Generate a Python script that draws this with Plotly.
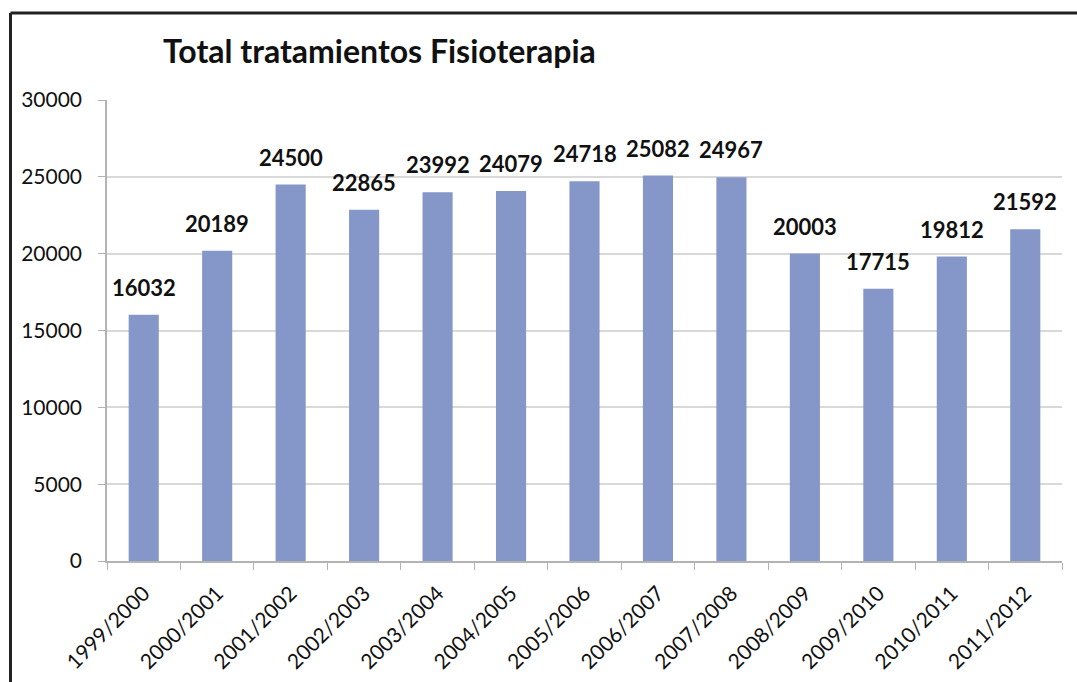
import plotly.graph_objects as go

categories = ["1999/2000", "2000/2001", "2001/2002", "2002/2003", "2003/2004",
              "2004/2005", "2005/2006", "2006/2007", "2007/2008", "2008/2009",
              "2009/2010", "2010/2011", "2011/2012"]
values = [16032, 20189, 24500, 22865, 23992, 24079, 24718, 25082, 24967,
          20003, 17715, 19812, 21592]
y_ticks = [0, 5000, 10000, 15000, 20000, 25000, 30000]
title_text = "Total tratamientos Fisioterapia"

bar_color = "#8497C8"
font_family = "Lato, 'Open Sans', sans-serif"

fig = go.Figure()
fig.add_trace(go.Bar(
    x=categories, y=values,
    marker=dict(color=bar_color, line=dict(width=0)),
    hoverinfo="x+y",
))

annotations = [
    dict(x=c, y=v, xref="x", yref="y", text=f"{v}", showarrow=False,
         yanchor="bottom", xanchor="center", yshift=12,
         font=dict(family=font_family, size=22, color="#111111", weight="bold"))
    for c, v in zip(categories, values)
]

fig.update_layout(
    width=1077, height=682,
    margin=dict(l=107, r=15, t=100, b=121, autoexpand=False),
    paper_bgcolor="white", plot_bgcolor="white",
    bargap=0.59,
    showlegend=False,
    title=dict(text=f"<b>{title_text}</b>", x=163 / 1077, xanchor="left",
               xref="container", y=1 - 52 / 682, yanchor="middle", yref="container",
               font=dict(family=font_family, size=32, color="#111111")),
    font=dict(family=font_family, color="#111111"),
    annotations=annotations,
    xaxis=dict(
        type="category", showgrid=False,
        showline=True, linecolor="#b3b3b3", linewidth=1.5,
        ticks="outside", ticklen=7, tickcolor="#b3b3b3", tickson="boundaries",
        tickangle=-45, tickfont=dict(family=font_family, size=21, color="#111111"),
        ticklabelstandoff=10,
        range=[-0.5, len(categories) - 0.5],
    ),
    yaxis=dict(
        range=[0, 30000], tickvals=y_ticks, ticktext=[str(t) for t in y_ticks],
        showgrid=True, gridcolor="#d9d9d9", gridwidth=1.5,
        showline=True, linecolor="#b3b3b3", linewidth=1.5,
        ticks="outside", ticklen=7, tickcolor="#b3b3b3",
        tickfont=dict(family=font_family, size=21, color="#111111"),
        ticklabelstandoff=12, zeroline=False,
    ),
    shapes=[
        dict(type="line", xref="paper", yref="paper",
             x0=(10.5 - 107) / 955, x1=(1077 - 107) / 955 + 0.01,
             y0=(561 - 13) / 461, y1=(561 - 13) / 461,
             line=dict(color="#222222", width=3)),
        dict(type="line", xref="paper", yref="paper",
             x0=(10.5 - 107) / 955, x1=(10.5 - 107) / 955,
             y0=(561 - 13) / 461, y1=(561 - 690) / 461,
             line=dict(color="#222222", width=3)),
    ],
)

fig.write_html(
    "out.html",
    config={"displayModeBar": False},
    post_script="document.body.style.margin='0';document.body.style.overflow='hidden';",
)
